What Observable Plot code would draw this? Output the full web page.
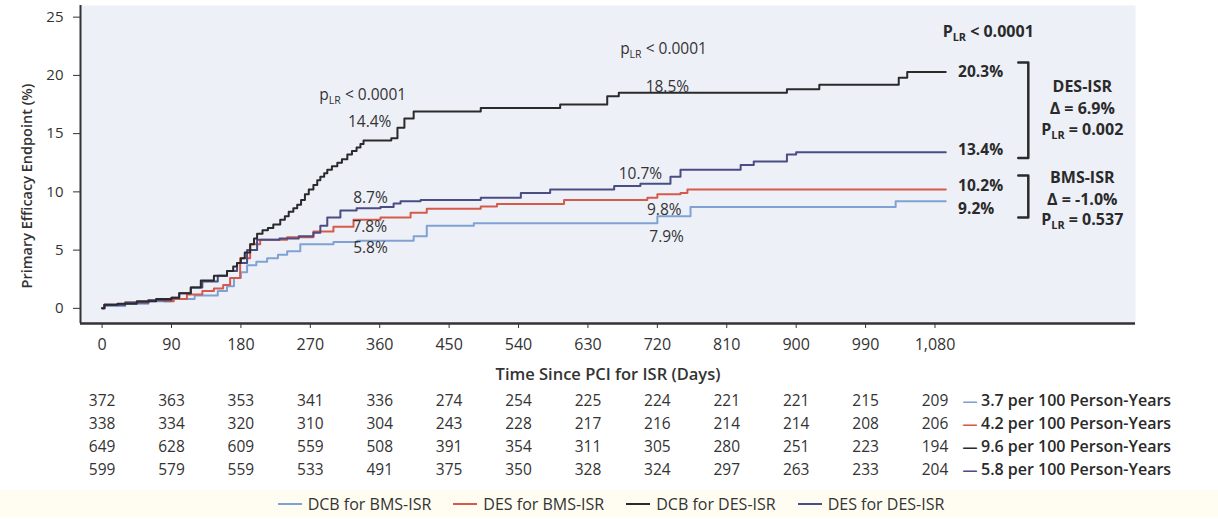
<!DOCTYPE html>
<html><head><meta charset="utf-8">
<script src="https://cdn.jsdelivr.net/npm/d3@7"></script>
<script src="https://cdn.jsdelivr.net/npm/@observablehq/plot@0.6"></script>
<style>
body{margin:0;background:#fff;font-family:"Open Sans",sans-serif;}
#legend{display:flex;justify-content:center;align-items:center;gap:22px;height:27px;background:#fffdf2;font-size:16px;color:#333;padding-left:4px;}
#legend .item{display:flex;align-items:center;}
#legend .sw{display:inline-block;width:24px;height:2px;margin-right:6px;}
</style></head><body><div id="chart"></div><div id="legend"></div>
<script>
// ---- series (day, cumulative % of primary efficacy endpoint) ----
const seriesNames = ["DCB for BMS-ISR", "DES for BMS-ISR", "DCB for DES-ISR", "DES for DES-ISR"];
const seriesColors = ["#7fa2d2", "#d65a4b", "#2a2a2a", "#4a4c84"];

const dcbBms = [[0,0],[3,0.2],[30,0.4],[60,0.6],[90,0.8],[120,1.1],[150,1.5],[162,1.9],[171,2.6],[180,3.1],[188,3.7],[200,4.0],[214,4.3],[228,4.6],[240,4.9],[257,5.5],[300,5.7],[331,5.8],[404,6.2],[421,7.1],[482,7.3],[720,7.9],[763,8.7],[1029,9.2],[1094,9.2]];
const desBms = [[0,0],[3,0.3],[30,0.5],[60,0.7],[80,0.6],[93,0.8],[110,1.2],[130,1.5],[145,1.7],[157,2.0],[166,2.6],[179,4.3],[192,5.5],[205,5.9],[240,6.1],[274,6.6],[300,7.0],[326,7.6],[361,7.8],[400,8.2],[421,8.55],[491,8.75],[512,8.95],[599,9.3],[707,9.5],[720,9.8],[750,9.9],[759,10.2],[1094,10.2]];
const desDes = [[0,0],[3,0.3],[30,0.5],[60,0.7],[90,0.9],[100,1.3],[115,1.8],[130,2.3],[150,2.8],[162,3.2],[175,3.9],[188,5.0],[201,5.9],[230,6.0],[255,6.2],[274,6.5],[283,7.1],[292,7.8],[309,8.4],[330,8.6],[361,8.7],[378,9.0],[387,9.2],[413,9.3],[491,9.5],[543,9.9],[581,10.2],[664,10.5],[698,10.7],[737,11.3],[750,11.9],[828,12.3],[845,12.6],[888,13.2],[900,13.4],[1094,13.4]];
const dcbDes = [[0,0],[3,0.3],[20,0.4],[45,0.6],[70,0.8],[90,0.9],[100,1.3],[115,1.8],[128,2.4],[145,2.8],[162,3.2],[170,3.6],[175,3.9],[180,4.3],[185,4.8],[192,5.5],[197,6.0],[201,6.4],[208,6.7],[215,6.9],[222,7.2],[231,7.6],[237,7.9],[242,8.3],[248,8.6],[253,8.9],[258,9.3],[263,9.8],[268,10.2],[274,10.6],[279,11.0],[283,11.3],[288,11.6],[292,11.9],[298,12.2],[305,12.5],[311,12.8],[318,13.2],[324,13.5],[330,13.8],[335,14.1],[339,14.4],[375,14.6],[383,15.5],[392,16.3],[404,16.9],[491,17.2],[594,17.5],[655,18.2],[670,18.5],[888,18.8],[930,19.2],[1033,19.8],[1044,20.3],[1094,20.3]];

// ---- axes ----
const xTicks = [0,90,180,270,360,450,540,630,720,810,900,990,1080];
const yTicks = [0,5,10,15,20,25];
const xDomain = [-28, 1340];
const yDomain = [-1.3, 26];

// ---- numbers at risk ----
const riskDcbBms = [372,363,353,341,336,274,254,225,224,221,221,215,209];
const riskDesBms = [338,334,320,310,304,243,228,217,216,214,214,208,206];
const riskDcbDes = [649,628,609,559,508,391,354,311,305,280,251,223,194];
const riskDesDes = [599,579,559,533,491,375,350,328,324,297,263,233,204];
const rates = ["3.7 per 100 Person-Years","4.2 per 100 Person-Years","9.6 per 100 Person-Years","5.8 per 100 Person-Years"];

// ---- annotations (anchored in data units) ----
const curveLabels = [
  {text:"p_LR < 0.0001", day:338, pct:18.3},
  {text:"14.4%", day:347, pct:16.0},
  {text:"8.7%", day:348, pct:9.45},
  {text:"7.8%", day:347, pct:6.96},
  {text:"5.8%", day:348, pct:5.15},
  {text:"p_LR < 0.0001", day:728, pct:22.3},
  {text:"18.5%", day:733, pct:19.0},
  {text:"10.7%", day:698, pct:11.5},
  {text:"9.8%", day:729, pct:8.4},
  {text:"7.9%", day:732, pct:6.1}
];
const endLabels = [
  {text:"20.3%", day:1110, pct:20.3},
  {text:"13.4%", day:1110, pct:13.6},
  {text:"10.2%", day:1110, pct:10.5},
  {text:"9.2%", day:1110, pct:8.55}
];
const groupLabels = [
  {text:"P_LR < 0.0001", day:1149, pct:23.7},
  {text:"DES-ISR", day:1271, pct:19.0},
  {text:"Δ = 6.9%", day:1271, pct:17.1},
  {text:"P_LR = 0.002", day:1271, pct:15.3},
  {text:"BMS-ISR", day:1271, pct:11.2},
  {text:"Δ = -1.0%", day:1271, pct:9.3},
  {text:"P_LR = 0.537", day:1271, pct:7.56}
];
const bracketDes = [[1188,21.1],[1201,21.1],[1201,12.9],[1188,12.9]];
const bracketBms = [[1188,11.4],[1201,11.4],[1201,7.8],[1188,7.8]];

// ---- build tables ----
const allSeries = [dcbBms, desBms, desDes, dcbDes];
const allNames = [seriesNames[0], seriesNames[1], seriesNames[3], seriesNames[2]];
const curveData = allSeries.flatMap((s, i) => s.map(([day, pct]) => ({day, pct, name: allNames[i]})));
const riskRows = [riskDcbBms, riskDesBms, riskDcbDes, riskDesDes];
const riskData = riskRows.flatMap((r, row) => r.map((n, j) => ({day: xTicks[j], n, row})));
const rateData = rates.map((t, row) => ({day: xTicks[xTicks.length-1], text: t, row, color: seriesColors[row]}));
const rowDy = [82, 105, 128, 151.5];
const toPts = a => a.map(([day, pct]) => ({day, pct}));

const marks = [
  Plot.frame({fill:"#eef0f8", stroke:null}),
  Plot.axisX(xTicks, {tickSize:5, tickPadding:10, tickFormat:d3.format(","), fontSize:16, label:null, stroke:"#333"}),
  Plot.axisY(yTicks, {tickSize:7, tickPadding:10, fontSize:15, label:null, stroke:"#333"}),
  Plot.ruleX([xDomain[0]], {stroke:"#333", strokeWidth:2}),
  Plot.ruleY([yDomain[0]], {stroke:"#333", strokeWidth:2.5}),
  Plot.line(curveData, {x:"day", y:"pct", stroke:"name", z:"name", curve:"step-after", strokeWidth:2}),
  Plot.text(curveLabels, {x:"day", y:"pct", text:"text", fontSize:15.5, fill:"#333"}),
  Plot.text(endLabels, {x:"day", y:"pct", text:"text", fontSize:15.5, fontWeight:700, textAnchor:"start", fill:"#2a2a2a"}),
  Plot.text(groupLabels, {x:"day", y:"pct", text:"text", fontSize:16, fontWeight:700, fill:"#2a2a2a"}),
  Plot.line(toPts(bracketDes), {x:"day", y:"pct", stroke:"#2a2a2a", strokeWidth:2.5}),
  Plot.line(toPts(bracketBms), {x:"day", y:"pct", stroke:"#2a2a2a", strokeWidth:2.5}),
  Plot.text(["Primary Efficacy Endpoint (%)"], {frameAnchor:"left", y:()=>10.5, rotate:-90, dx:-53, textAnchor:"middle", fontSize:14.5, fontWeight:600, fill:"#333"}),
  Plot.text(["Time Since PCI for ISR (Days)"], {frameAnchor:"bottom", dy:56, textAnchor:"middle", fontSize:16.5, fontWeight:600, fill:"#333"})
];
rowDy.forEach((dy, row) => {
  marks.push(Plot.text(riskData.filter(d => d.row === row), {x:"day", frameAnchor:"bottom", dy, text:"n", textAnchor:"middle", fontSize:15.5, fill:"#333"}));
  marks.push(Plot.text(rateData.filter(d => d.row === row), {x:"day", frameAnchor:"bottom", dy, dx:35, text:()=>"—", textAnchor:"middle", fill:"color", fontSize:15, fontWeight:700}));
  marks.push(Plot.text(rateData.filter(d => d.row === row), {x:"day", frameAnchor:"bottom", dy, dx:46, text:"text", textAnchor:"start", fontSize:16, fontWeight:600, fill:"#2a2a2a"}));
});

const svg = Plot.plot({
  width:1218, height:490,
  marginLeft:80, marginRight:83, marginTop:5, marginBottom:167,
  x:{domain:xDomain},
  y:{domain:yDomain},
  color:{domain:seriesNames, range:seriesColors},
  style:{fontFamily:"'Open Sans', sans-serif", fontSize:"15px", color:"#333", background:"transparent"},
  marks
});

// subscript "LR"
d3.select(svg).selectAll("text").each(function(){
  const s = this.textContent;
  const i = s.indexOf("_LR");
  if (i < 0) return;
  const el = d3.select(this);
  el.text(null);
  el.append("tspan").text(s.slice(0, i));
  el.append("tspan").attr("font-size", "0.68em").attr("dy", "4").text("LR");
  el.append("tspan").attr("dy", "-4").text(s.slice(i + 3));
});

document.getElementById("chart").appendChild(svg);

const legend = d3.select("#legend");
seriesNames.forEach((n, i) => {
  const it = legend.append("div").attr("class", "item");
  it.append("span").attr("class", "sw").style("background", seriesColors[i]);
  it.append("span").text(n);
});
</script></body></html>
